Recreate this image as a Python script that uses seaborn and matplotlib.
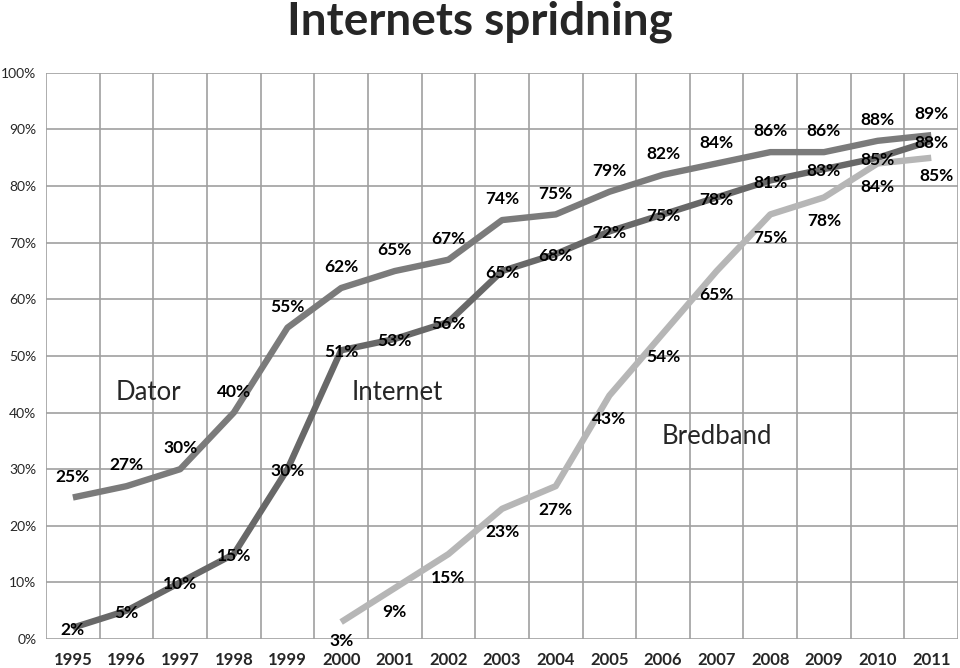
import matplotlib
matplotlib.use("Agg")
import matplotlib.pyplot as plt
import seaborn as sns
import pandas as pd
import numpy as np
from matplotlib.ticker import FixedLocator

years = [str(y) for y in range(1995, 2012)]
dator = [25, 27, 30, 40, 55, 62, 65, 67, 74, 75, 79, 82, 84, 86, 86, 88, 89]
internet = [2, 5, 10, 15, 30, 51, 53, 56, 65, 68, 72, 75, 78, 81, 83, 85, 88]
bredband_years = [str(y) for y in range(2000, 2012)]
bredband = [3, 9, 15, 23, 27, 43, 54, 65, 75, 78, 84, 85]
yticks = [0, 10, 20, 30, 40, 50, 60, 70, 80, 90, 100]

sns.set_style("white")
plt.rcParams['font.family'] = ['Lato', 'DejaVu Sans']

idx = {y: i for i, y in enumerate(years)}
df = pd.concat([
    pd.DataFrame({"x": [idx[y] for y in years], "v": dator, "serie": "Dator"}),
    pd.DataFrame({"x": [idx[y] for y in years], "v": internet, "serie": "Internet"}),
    pd.DataFrame({"x": [idx[y] for y in bredband_years], "v": bredband, "serie": "Bredband"}),
])
palette = {"Dator": "#7b7b7b", "Internet": "#686868", "Bredband": "#b6b6b6"}

fig = plt.figure(figsize=(9.6, 6.68), dpi=100)
ax = fig.add_axes([0.048, 0.0434, 0.95, 0.8475])

sns.lineplot(data=df, x="x", y="v", hue="serie", palette=palette, linewidth=4.6,
             ax=ax, legend=False, zorder=3, solid_capstyle="butt")

ax.set_xlim(-0.5, len(years) - 0.5)
ax.set_ylim(0, 100)
ax.xaxis.set_major_locator(FixedLocator(np.arange(-0.5, len(years), 1.0)))
ax.xaxis.set_minor_locator(FixedLocator(np.arange(len(years))))
ax.set_xticklabels([], minor=False)
ax.set_xticklabels(years, minor=True, fontweight="bold", fontsize=12)
ax.tick_params(axis="x", which="major", length=5, color="#a0a0a0", width=1.2, direction="out")
ax.tick_params(axis="x", which="minor", length=0, pad=9)
ax.set_yticks(yticks)
ax.set_yticklabels([f"{t}%" for t in yticks], fontsize=10)
ax.tick_params(axis="y", length=4, color="#a0a0a0", width=1.2, direction="out", pad=3)
ax.grid(True, which="major", color="#a0a0a0", linewidth=1.2)
ax.set_axisbelow(True)
for s in ax.spines.values():
    s.set_visible(False)
ax.set_xlabel("")
ax.set_ylabel("")

lab = dict(ha="center", va="center", fontsize=12.5, fontweight="bold", zorder=5, color="black")
for i, v in enumerate(dator):
    ax.annotate(f"{v}%", (i, v), xytext=(0, 15), textcoords="offset points", **lab)
for i, v in enumerate(internet):
    ax.annotate(f"{v}%", (i, v), xytext=(0, -1.5), textcoords="offset points", **lab)
for y, v in zip(bredband_years, bredband):
    if y == "2011":
        off = (4, -13)
    elif y == "2000":
        off = (0, -14)
    else:
        off = (0, -17)
    ax.annotate(f"{v}%", (idx[y], v), xytext=off, textcoords="offset points", **lab)

ax.text(1.4, 43.5, "Dator", fontsize=18.5, ha="center", va="center")
ax.text(6.05, 43.5, "Internet", fontsize=18.5, ha="center", va="center")
ax.text(12.0, 35.8, "Bredband", fontsize=18.5, ha="center", va="center")

fig.text(0.5, 0.968, "Internets spridning", fontsize=33, fontweight="bold", ha="center", va="center")

fig.savefig("out.png", dpi=100)
